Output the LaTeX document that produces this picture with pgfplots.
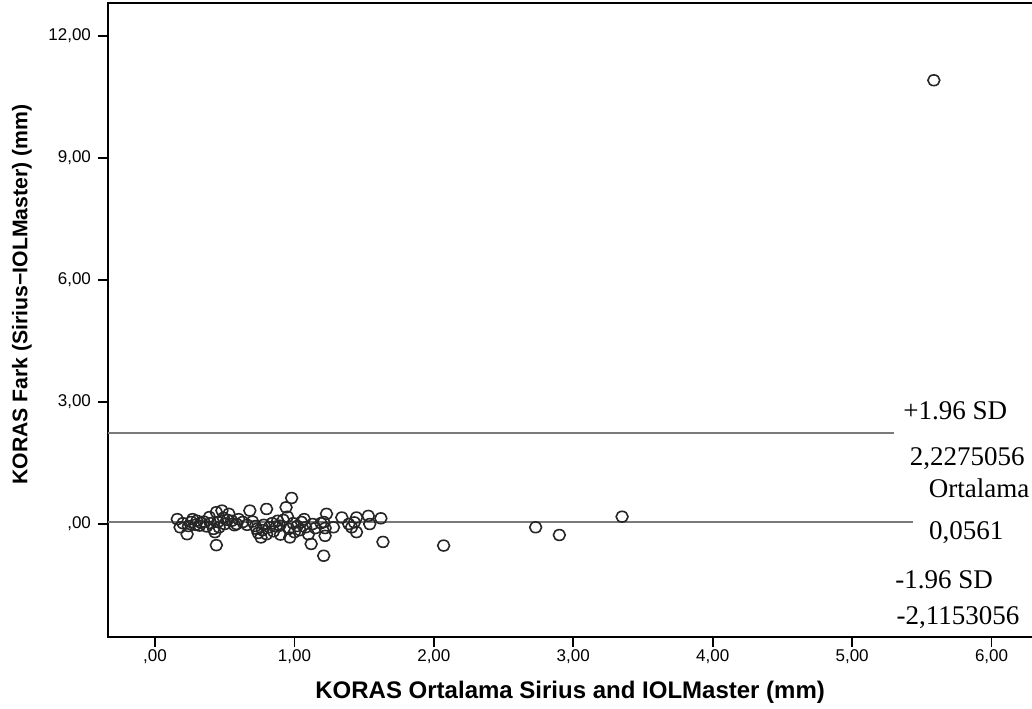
\documentclass[border=0pt]{standalone}
\usepackage{fontspec}
\setmainfont{Liberation Sans}
\newfontfamily\serifann{Liberation Serif}
\usepackage{pgfplots}
\pgfplotsset{compat=1.18}
\definecolor{limgrey}{HTML}{7A7A7A}

\begin{document}
\begin{tikzpicture}
\begin{axis}[
  scale only axis,
  width=469.6pt,
  height=317pt,
  xmin=-0.337, xmax=6.40,
  ymin=-2.78, ymax=12.81,
  xtick={0,1,2,3,4,5,6},
  xticklabels={{,00},{1,00},{2,00},{3,00},{4,00},{5,00},{6,00}},
  ytick={0,3,6,9,12},
  yticklabels={{,00},{3,00},{6,00},{9,00},{12,00}},
  tick pos=left,
  tick align=outside,
  major tick length=5pt,
  tick style={black, line width=0.8pt},
  axis line style={line width=0.8pt},
  ticklabel style={font=\fontsize{8.5}{10}\selectfont},
  xticklabel style={yshift=2.5pt},
  xlabel={KORAS Ortalama Sirius and IOLMaster (mm)},
  ylabel={KORAS Fark (Sirius−IOLMaster) (mm)},
  xlabel style={font=\bfseries\fontsize{12}{14}\selectfont,
    at={(axis description cs:0.492,-0.0868)}, anchor=center},
  ylabel style={font=\bfseries\fontsize{10.6}{13}\selectfont,
    at={(axis description cs:-0.0916,0.54)}, anchor=center},
]
% limits of agreement
\addplot[limgrey, line width=1pt] coordinates {(-0.337,2.2275056) (5.30,2.2275056)};
\addplot[limgrey, line width=1pt] coordinates {(-0.337,0.0561) (5.44,0.0561)};

\addplot[only marks, mark=o, mark size=2.7pt,
  mark options={draw=black!85, line width=0.8pt, xscale=1.1}] coordinates {
  (0.16,0.12) (0.18,-0.08) (0.20,0.02) (0.23,-0.25) (0.24,-0.05) (0.26,0.05)
  (0.27,0.12) (0.29,-0.02) (0.30,0.08) (0.32,-0.04) (0.33,0.03) (0.35,0.06)
  (0.37,-0.06) (0.39,0.17) (0.40,0.02) (0.42,-0.12) (0.43,-0.20) (0.44,0.29)
  (0.44,-0.52) (0.45,0.05) (0.46,-0.08) (0.48,0.33) (0.49,0.15) (0.50,0.00)
  (0.52,0.10) (0.53,0.25) (0.55,0.08) (0.57,-0.03) (0.585,0.00) (0.60,0.12)
  (0.63,0.05) (0.66,-0.02) (0.68,0.33) (0.70,0.06) (0.72,-0.05) (0.73,-0.12)
  (0.74,-0.22) (0.76,-0.33) (0.77,-0.15) (0.78,-0.02) (0.80,0.37) (0.80,-0.25)
  (0.82,-0.08) (0.84,0.02) (0.85,-0.18) (0.87,-0.06) (0.88,0.08) (0.895,-0.04)
  (0.90,-0.26) (0.92,0.10) (0.94,0.41) (0.95,0.18) (0.96,-0.12) (0.967,-0.33)
  (0.98,0.64) (0.99,0.02) (1.00,-0.20) (1.02,-0.05) (1.04,-0.15) (1.05,0.05)
  (1.07,0.12) (1.08,-0.08) (1.10,-0.25) (1.12,-0.49) (1.13,0.00) (1.15,-0.10)
  (1.19,0.02) (1.21,-0.78) (1.22,-0.29) (1.22,-0.10) (1.23,0.25) (1.21,0.05)
  (1.28,-0.08) (1.34,0.16) (1.39,0.00) (1.41,-0.08) (1.43,0.04) (1.445,0.16)
  (1.445,-0.20) (1.53,0.20) (1.54,0.00) (1.62,0.14) (1.635,-0.44)
  (2.07,-0.53) (2.73,-0.08) (2.90,-0.27) (3.35,0.18) (5.586,10.91)
};

\node[font=\serifann\fontsize{13.5}{15}\selectfont] at (axis cs:5.739,2.78) {+1.96 SD};
\node[font=\serifann\fontsize{13.5}{15}\selectfont] at (axis cs:5.825,1.62) {2,2275056};
\node[font=\serifann\fontsize{13.5}{15}\selectfont] at (axis cs:5.911,0.885) {Ortalama};
\node[font=\serifann\fontsize{13.5}{15}\selectfont] at (axis cs:5.818,-0.221) {0,0561};
\node[font=\serifann\fontsize{13.5}{15}\selectfont] at (axis cs:5.660,-1.377) {-1.96 SD};
\node[font=\serifann\fontsize{13.5}{15}\selectfont] at (axis cs:5.760,-2.311) {-2,1153056};

\coordinate (bbr) at (axis cs:6.29,12.81);
\end{axis}
\pgfresetboundingbox
\path[use as bounding box] (current axis.south west) ++(-54pt,-35.5pt) rectangle ([yshift=1.5pt]bbr);
\end{tikzpicture}
\end{document}
